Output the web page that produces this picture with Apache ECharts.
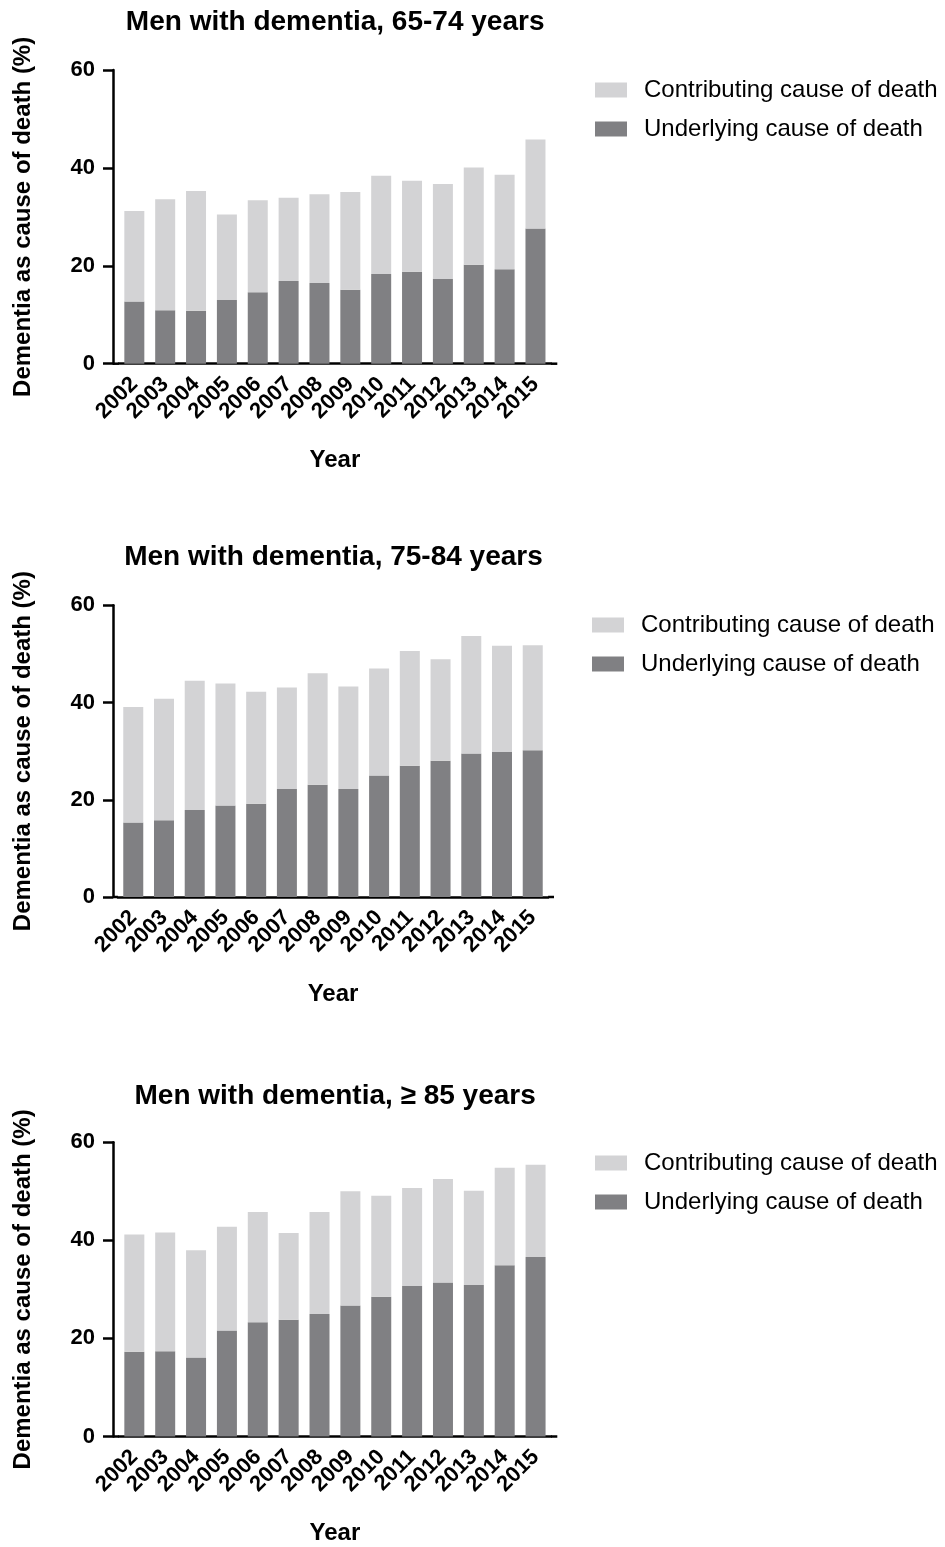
<!DOCTYPE html>
<html>
<head>
<meta charset="utf-8">
<script src="https://cdn.jsdelivr.net/npm/echarts@6/dist/echarts.min.js"></script>
<style>
html,body{margin:0;padding:0;background:#fff;}
#chart{width:945px;height:1547px;}
</style>
</head>
<body>
<div id="chart"></div>
<script>
// ---- data ----
const years = ['2002','2003','2004','2005','2006','2007','2008','2009','2010','2011','2012','2013','2014','2015'];
const yTicks = [0, 20, 40, 60];
const panelTitles = ['Men with dementia, 65-74 years', 'Men with dementia, 75-84 years', 'Men with dementia, \u2265 85 years'];
const seriesNames = ['Contributing cause of death', 'Underlying cause of death'];

const underlying6574 = [12.7, 10.9, 10.8, 13.0, 14.6, 16.9, 16.5, 15.1, 18.3, 18.8, 17.3, 20.2, 19.3, 27.6];
const contributing6574 = [18.5, 22.7, 24.5, 17.5, 18.8, 17.0, 18.1, 20.0, 20.1, 18.6, 19.4, 19.9, 19.3, 18.2];

const underlying7584 = [15.3, 15.8, 17.9, 18.8, 19.2, 22.2, 23.1, 22.2, 25.0, 27.0, 28.0, 29.5, 29.8, 30.2];
const contributing7584 = [23.8, 25.0, 26.6, 25.1, 23.0, 20.9, 22.9, 21.1, 22.0, 23.6, 20.9, 24.2, 21.9, 21.6];

const underlying85 = [17.3, 17.4, 16.1, 21.6, 23.3, 23.8, 25.0, 26.7, 28.5, 30.7, 31.4, 30.9, 34.9, 36.6];
const contributing85 = [23.9, 24.2, 21.9, 21.2, 22.5, 17.7, 20.8, 23.3, 20.6, 20.0, 21.1, 19.2, 19.9, 18.8];

const underlyingAll = [underlying6574, underlying7584, underlying85];
const contributingAll = [contributing6574, contributing7584, contributing85];

// ---- layout / style ----
const FONT = '"Liberation Sans", Arial, Helvetica, sans-serif';
const LIGHT = '#d3d3d5';
const DARK = '#808083';
const AXIS_X = 113;
const layout = [
  {top: 70,     bottom: 363.7,  bandLeft: 118.9, bandRight: 550.9, axisEnd: 557.3, titleTop: 8,    legendTop: 78,   legendLeft: 595},
  {top: 605.3,  bottom: 897.0,  bandLeft: 117.9, bandRight: 548.1, axisEnd: 554.0, titleTop: 543,  legendTop: 613,  legendLeft: 592},
  {top: 1142.3, bottom: 1436.5, bandLeft: 118.9, bandRight: 551.0, axisEnd: 557.3, titleTop: 1082, legendTop: 1151, legendLeft: 595}
];

const grids = [], xAxes = [], yAxes = [], series = [], titles = [], legends = [], graphics = [];

layout.forEach((L, i) => {
  grids.push({left: L.bandLeft, top: L.top, width: L.bandRight - L.bandLeft, height: L.bottom - L.top, containLabel: false});
  titles.push({
    text: panelTitles[i],
    left: (AXIS_X + L.axisEnd) / 2,
    textAlign: 'center',
    top: L.titleTop,
    padding: 0,
    textStyle: {fontFamily: FONT, fontWeight: 'bold', fontSize: 28, color: '#000'}
  });
  xAxes.push({
    type: 'category',
    gridIndex: i,
    data: years,
    name: 'Year',
    nameLocation: 'middle',
    nameGap: 85,
    nameTextStyle: {fontFamily: FONT, fontWeight: 'bold', fontSize: 24, color: '#000'},
    axisLine: {lineStyle: {color: '#000', width: 2.5}},
    axisTick: {alignWithLabel: true, length: 12, lineStyle: {color: '#000', width: 2.5}},
    axisLabel: {rotate: 45, margin: 17, interval: 0, fontFamily: FONT, fontWeight: 'bold', fontSize: 22, color: '#000'},
    splitLine: {show: false}
  });
  yAxes.push({
    type: 'value',
    gridIndex: i,
    min: yTicks[0],
    max: yTicks[yTicks.length - 1],
    interval: yTicks[1] - yTicks[0],
    offset: L.bandLeft - AXIS_X,
    name: 'Dementia as cause of death (%)',
    nameLocation: 'middle',
    nameGap: 78,
    nameTextStyle: {fontFamily: FONT, fontWeight: 'bold', fontSize: 24, color: '#000'},
    axisLine: {show: true, lineStyle: {color: '#000', width: 2.5}},
    axisTick: {show: true, length: 10, lineStyle: {color: '#000', width: 2.5}},
    axisLabel: {margin: 18, fontFamily: FONT, fontWeight: 'bold', fontSize: 22, color: '#000'},
    splitLine: {show: false}
  });
  series.push({
    name: seriesNames[1], type: 'bar', stack: 'p' + i,
    xAxisIndex: i, yAxisIndex: i,
    data: underlyingAll[i], barWidth: 20,
    itemStyle: {color: DARK}, emphasis: {disabled: true}
  });
  series.push({
    name: seriesNames[0], type: 'bar', stack: 'p' + i,
    xAxisIndex: i, yAxisIndex: i,
    data: contributingAll[i], barWidth: 20,
    itemStyle: {color: LIGHT}, emphasis: {disabled: true}
  });
  legends.push({
    data: seriesNames,
    orient: 'vertical',
    left: L.legendLeft,
    top: L.legendTop,
    padding: 0,
    itemWidth: 32,
    itemHeight: 15,
    itemGap: 15,
    icon: 'rect',
    selectedMode: false,
    textStyle: {fontFamily: FONT, fontSize: 24, color: '#000', padding: [0, 0, 0, 12]}
  });
  // x-axis line continuation to meet the y axis and past the last bar (GraphPad style)
  graphics.push({type: 'line', silent: true, shape: {x1: AXIS_X, y1: L.bottom, x2: L.bandLeft, y2: L.bottom}, style: {stroke: '#000', lineWidth: 2.5}});
  graphics.push({type: 'line', silent: true, shape: {x1: L.bandRight, y1: L.bottom, x2: L.axisEnd, y2: L.bottom}, style: {stroke: '#000', lineWidth: 2.5}});
});

const chart = echarts.init(document.getElementById('chart'), null, {renderer: 'canvas'});
chart.setOption({
  backgroundColor: '#fff',
  animation: false,
  title: titles,
  legend: legends,
  grid: grids,
  xAxis: xAxes,
  yAxis: yAxes,
  series: series,
  graphic: graphics
});
</script>
</body>
</html>
